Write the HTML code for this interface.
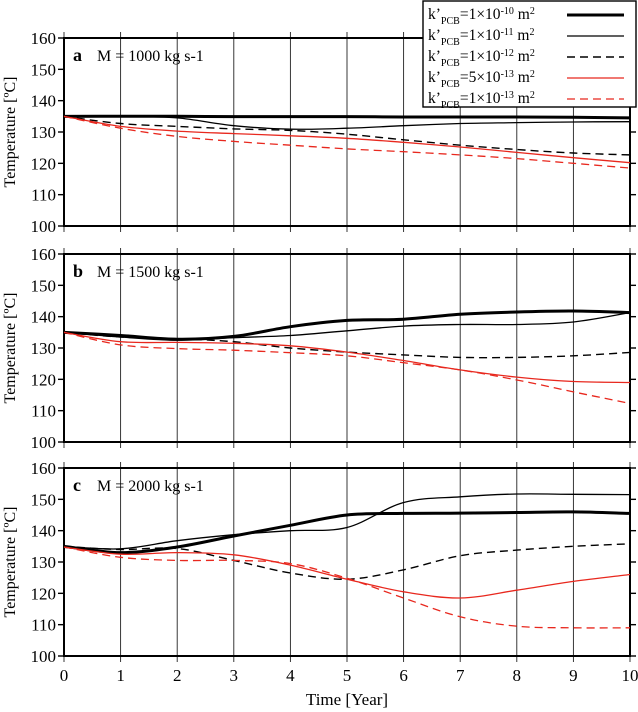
<!DOCTYPE html>
<html><head><meta charset="utf-8"><style>
html,body{margin:0;padding:0;background:#fff;}
svg{display:block;font-family:"Liberation Serif",serif;}
</style></head><body>
<svg id="chart" width="638" height="712" viewBox="0 0 638 712"></svg>
<script>
const years = [0,1,2,3,4,5,6,7,8,9,10];
const panelLabels = ['a','b','c'];
const panelTitles = ['M = 1000 kg s-1','M = 1500 kg s-1','M = 2000 kg s-1'];
const yTicks = [100,110,120,130,140,150,160];
const xTicks = [0,1,2,3,4,5,6,7,8,9,10];
const seriesNames = ['k-1e-10','k-1e-11','k-1e-12','k-5e-13','k-1e-13'];
const legendMant = ['1','1','1','5','1'];
const legendExp = ['-10','-11','-12','-13','-13'];
// panel a
const a_k10 = [135,135,135,134.9,134.9,134.9,134.8,134.8,134.8,134.7,134.5];
const a_k11 = [135,135,134.5,132,130.9,131.2,132,132.7,133,133.2,133.3];
const a_k12 = [135,132.7,131.8,131,130.5,129.3,127.5,125.8,124.4,123.3,122.7];
const a_k5e13 = [135,131.8,130.3,129.5,128.8,128,126.7,125.2,123.5,121.8,120.2];
const a_k13 = [135,131.2,128.6,127,125.8,124.6,123.7,122.7,121.5,120,118.5];
// panel b
const b_k10 = [135,134,132.8,133.7,136.8,138.8,139.2,140.8,141.5,141.8,141.3];
const b_k11 = [135,133.5,132.5,133.3,134,135.5,137,137.5,137.5,138.3,141.3];
const b_k12 = [135,133.5,133,132,130,128.7,127.8,127,127,127.5,128.6];
const b_k5e13 = [135,132,131.8,131.5,130.7,128.7,126,123,120.7,119.3,119];
const b_k13 = [135,131,129.8,129.3,128.5,127.5,125.3,123,119.8,116,112.3];
// panel c
const c_k10 = [135,133,134.8,138.3,141.7,145,145.5,145.6,145.8,146,145.5];
const c_k11 = [135,134.2,136.8,138.7,140,141,149,150.8,151.7,151.6,151.5];
const c_k12 = [135,134,134.3,130.5,126.5,124.5,127.5,132,133.8,135,135.8];
const c_k5e13 = [134.8,132.5,133,132.3,129,124.5,120.5,118.5,121,123.8,126];
const c_k13 = [134.8,131.5,130.5,130.5,129.5,124.8,118.5,112.5,109.5,109,109];
const panelData = [[a_k10,a_k11,a_k12,a_k5e13,a_k13],[b_k10,b_k11,b_k12,b_k5e13,b_k13],[c_k10,c_k11,c_k12,c_k5e13,c_k13]];
const styles = [
 {c:'#000',w:3,d:''},{c:'#000',w:1.3,d:''},{c:'#000',w:1.4,d:'8,5'},
 {c:'#e8281e',w:1.3,d:''},{c:'#e8281e',w:1.3,d:'8,5'}];

const NS='http://www.w3.org/2000/svg';
const svg=document.getElementById('chart');
function mk(tag,attrs,parent){const e=document.createElementNS(NS,tag);for(const k in attrs)e.setAttribute(k,attrs[k]);(parent||svg).appendChild(e);return e;}
const X0=64,X1=630;
const tops=[38,254,468],H=188;
const xs=v=>X0+(v-0)/10*(X1-X0);
function ys(p){return v=>tops[p]+(160-v)/60*H;}
function smooth(pts){let d='M'+pts[0][0]+','+pts[0][1];
 for(let i=0;i<pts.length-1;i++){const p0=pts[i-1]||pts[i],p1=pts[i],p2=pts[i+1],p3=pts[i+2]||p2;
 const c1=[p1[0]+(p2[0]-p0[0])/6,p1[1]+(p2[1]-p0[1])/6],c2=[p2[0]-(p3[0]-p1[0])/6,p2[1]-(p3[1]-p1[1])/6];
 d+=' C'+c1[0].toFixed(1)+','+c1[1].toFixed(1)+' '+c2[0].toFixed(1)+','+c2[1].toFixed(1)+' '+p2[0].toFixed(1)+','+p2[1].toFixed(1);}
 return d;}

for(let p=0;p<3;p++){
 const y=ys(p);
 const g=mk('g',{});
 
 
 xTicks.forEach(t=>{
  const l=mk('line',{x1:xs(t),x2:xs(t),y1:tops[p]-6,y2:tops[p]+H+6,stroke:'#222','stroke-width':0.9},g);
  
  
 });
 yTicks.forEach(t=>{
  const l=mk('line',{x1:X0-6,x2:X0,y1:y(t),y2:y(t),stroke:'#000','stroke-width':1.4},g);
  
  
  mk('line',{x1:X1,x2:X1+6,y1:y(t),y2:y(t),stroke:'#000','stroke-width':1.4},g);
  const tx=mk('text',{x:X0-8,y:y(t)+6,'text-anchor':'end','font-size':17},g);
  tx.textContent=t;
  
  
 });
 mk('rect',{x:X0,y:tops[p],width:X1-X0,height:H,fill:'none',stroke:'#000','stroke-width':2},g);
 const yl=mk('text',{transform:`translate(15,${tops[p]+H/2}) rotate(-90)`,'text-anchor':'middle','font-size':16},g);
 yl.textContent='Temperature [ºC]';
 
 
 const lb=mk('text',{x:73,y:tops[p]+23,'font-size':18,'font-weight':'bold'},g);
 lb.textContent=panelLabels[p];
 
 
 const tt=mk('text',{x:97,y:tops[p]+23,'font-size':16},g);
 tt.textContent=panelTitles[p];
 
 
 panelData[p].forEach((vals,i)=>{
  const pts=vals.map((v,j)=>[xs(years[j]),y(v)]);
  const s=styles[i];
  const path=mk('path',{d:smooth(pts),fill:'none',stroke:s.c,'stroke-width':s.w,'stroke-dasharray':s.d},g);
  
  
 });
}
xTicks.forEach(t=>{
 const tx=mk('text',{x:xs(t),y:681,'text-anchor':'middle','font-size':17});
 tx.textContent=t;
 
 
});
const xt=mk('text',{x:(X0+X1)/2,y:705,'text-anchor':'middle','font-size':17});
xt.textContent='Time [Year]';



const lg=mk('g',{});


mk('rect',{x:423,y:1,width:213,height:106,fill:'#fff',stroke:'#000','stroke-width':1.4},lg);
seriesNames.forEach((n,i)=>{
 const yy=15+i*21;
 const t=mk('text',{x:428,y:yy+4,'font-size':15.5},lg);
 t.innerHTML=`k’<tspan font-size="10" dy="5">PCB</tspan><tspan dy="-5">=${legendMant[i]}×10</tspan><tspan font-size="10" dy="-5">${legendExp[i]}</tspan><tspan dy="5"> m</tspan><tspan font-size="10" dy="-5">2</tspan>`;
 
 
 const s=styles[i];
 const l=mk('line',{x1:567,x2:624,y1:yy,y2:yy,stroke:s.c,'stroke-width':s.w,'stroke-dasharray':s.d},lg);
 
 
});
</script>
</body></html>
